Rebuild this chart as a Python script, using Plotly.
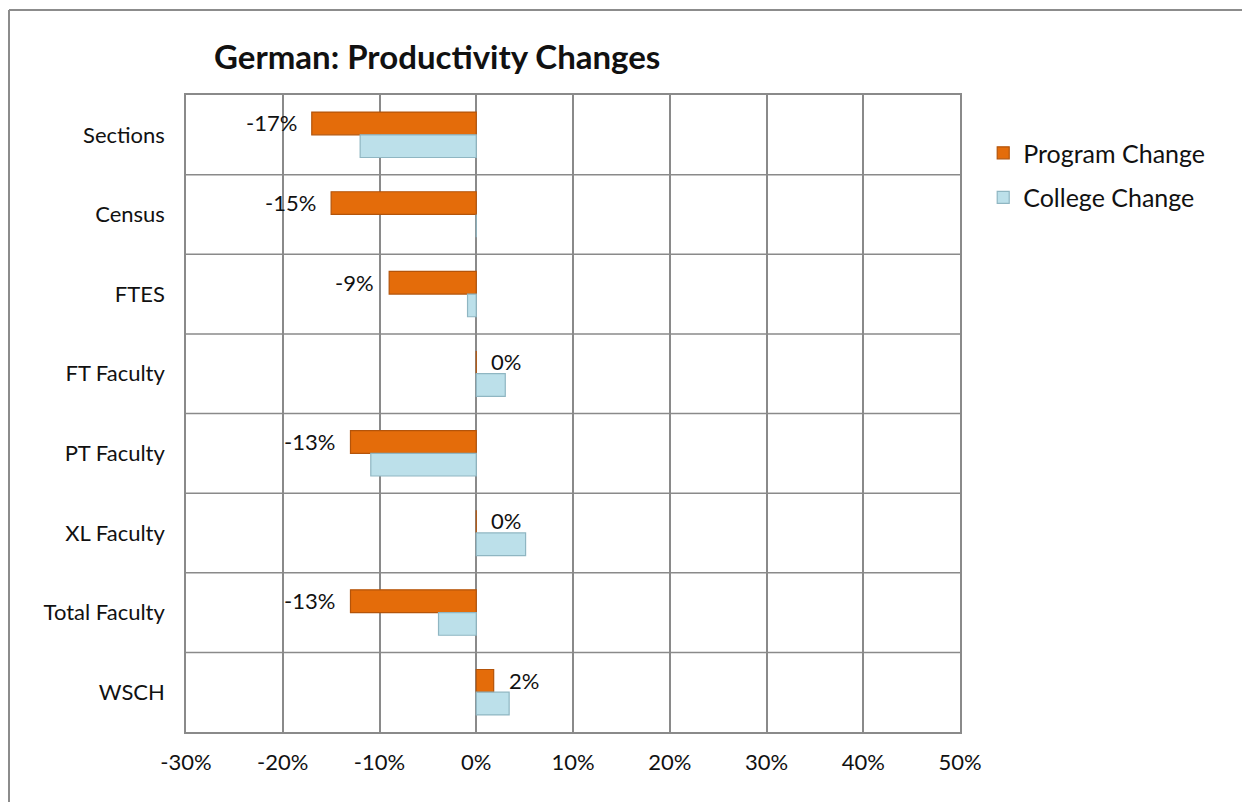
import plotly.graph_objects as go

categories = ["Sections", "Census", "FTES", "FT Faculty", "PT Faculty",
              "XL Faculty", "Total Faculty", "WSCH"]
program_change = [-0.17, -0.15, -0.09, 0.0, -0.13, 0.0, -0.13, 0.018]
college_change = [-0.12, 0.0, -0.009, 0.03, -0.109, 0.051, -0.039, 0.034]
program_labels = ["-17%", "-15%", "-9%", "0%", "-13%", "0%", "-13%", "2%"]
x_ticks = [-0.3, -0.2, -0.1, 0.0, 0.1, 0.2, 0.3, 0.4, 0.5]
x_tick_text = ["-30%", "-20%", "-10%", "0%", "10%", "20%", "30%", "40%", "50%"]

FONT = "Lato, Open Sans, sans-serif"

fig = go.Figure()
fig.add_trace(go.Bar(
    y=categories, x=program_change, orientation="h", name="Program Change",
    legendgroup="p",
    marker=dict(color="#E46C0A", line=dict(color="#B4540A", width=1.2)),
))
fig.add_trace(go.Bar(
    y=categories, x=college_change, orientation="h", name="College Change",
    legendgroup="c",
    marker=dict(color="#BCE0EA", line=dict(color="#8FB6C2", width=1.2)),
))

# data labels for the program series
for cat, val, lab in zip(categories, program_change, program_labels):
    neg = val < 0
    fig.add_annotation(
        x=val, y=cat, text=lab, showarrow=False,
        xanchor="right" if neg else "left", xshift=-13 if neg else 13,
        yshift=12, font=dict(family=FONT, size=22, color="#111"),
    )

# title
fig.add_annotation(
    xref="paper", yref="paper", x=0.034, y=1.061, text="<b>German: Productivity Changes</b>",
    showarrow=False, xanchor="left", yanchor="middle",
    font=dict(family=FONT, size=33, color="#111"),
)

# outer chart border (top and left edges), placed in pixels from the plot's top-left corner
border = dict(color="#8c8c8c", width=2)
fig.add_shape(type="line", xref="paper", yref="paper", xsizemode="pixel", ysizemode="pixel",
              xanchor=0, yanchor=1, x0=-177, x1=-177, y0=85, y1=-720, line=border)
fig.add_shape(type="line", xref="paper", yref="paper", xsizemode="pixel", ysizemode="pixel",
              xanchor=0, yanchor=1, x0=-177, x1=1072, y0=85, y1=85, line=border)

fig.update_layout(
    width=1250, height=802,
    margin=dict(l=178, r=298, t=87, b=78),
    paper_bgcolor="white", plot_bgcolor="white",
    barmode="group", bargap=0.43, bargroupgap=0.0,
    font=dict(family=FONT, size=22, color="#111"),
    showlegend=True,
    legend=dict(x=1.03, y=0.945, xanchor="left", yanchor="top",
                font=dict(family=FONT, size=25, color="#111"),
                tracegroupgap=9, itemwidth=30),
)
fig.update_xaxes(
    range=[-0.3, 0.5], tickvals=x_ticks, ticktext=x_tick_text,
    showgrid=True, gridcolor="#8a8a8a", gridwidth=1.5,
    showline=True, linecolor="#8a8a8a", linewidth=1.5, mirror=True,
    zeroline=False, ticks="", ticklabelstandoff=10,
    tickfont=dict(size=22),
)
fig.update_yaxes(
    autorange="reversed", showgrid=False,
    showline=True, linecolor="#8a8a8a", linewidth=1.5, mirror=True,
    ticks="", ticklabelstandoff=15, tickfont=dict(size=22),
)
# horizontal separators between categories
for i in range(len(categories) - 1):
    fig.add_shape(type="line", xref="paper", yref="y", x0=0, x1=1,
                  y0=i + 0.5, y1=i + 0.5, line=dict(color="#8a8a8a", width=1.5),
                  layer="below")
# vertical line at zero
fig.add_shape(type="line", xref="x", yref="paper", x0=0, x1=0, y0=0, y1=1,
              line=dict(color="#8a8a8a", width=1.5), layer="below")

fig.write_html("out.html")
